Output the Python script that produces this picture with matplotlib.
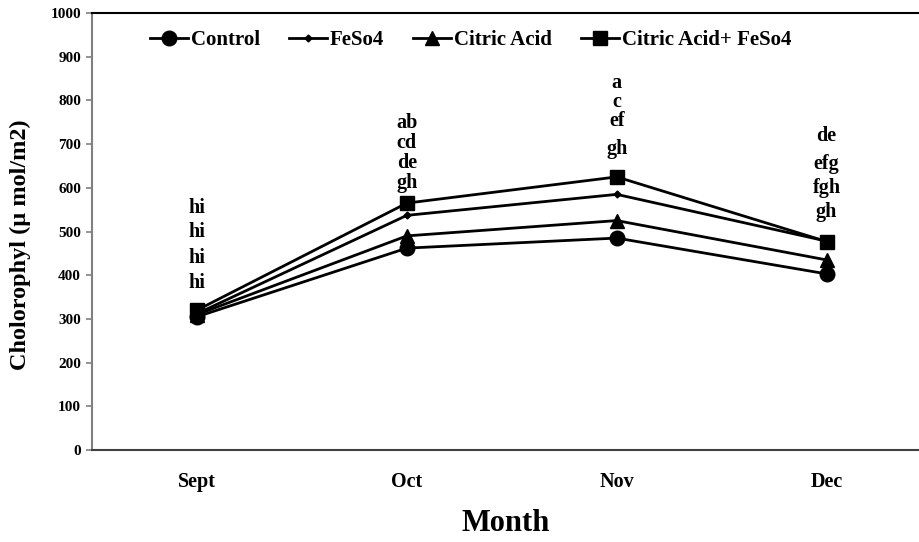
import matplotlib
matplotlib.use('Agg')
import matplotlib.pyplot as plt

plt.rcParams['font.family'] = ['Liberation Serif', 'DejaVu Serif']
plt.rcParams['font.weight'] = 'bold'

months = ['Sept', 'Oct', 'Nov', 'Dec']
control = [305, 462, 485, 403]
feso4 = [312, 537, 585, 478]
citric = [310, 490, 525, 435]
citric_feso4 = [320, 565, 625, 477]

# significance letters per month, and the heights they sit at
letters = [['hi', 'hi', 'hi', 'hi'],
           ['ab', 'cd', 'de', 'gh'],
           ['a', 'c', 'ef', 'gh'],
           ['de', 'efg', 'fgh', 'gh']]
letter_y = [[554, 499, 440, 382],
            [748, 703, 657, 611],
            [840, 796, 753, 689],
            [719, 654, 600, 545]]

fig = plt.figure(figsize=(9.19, 5.42), dpi=100)
ax = fig.add_axes([0.1001, 0.1697, 0.8999, 0.8063])

x = list(range(len(months)))
ax.plot(x, control, color='black', lw=2, marker='o', ms=10.5, label='Control')
ax.plot(x, feso4, color='black', lw=2, marker='D', ms=3.5, label='FeSo4')
ax.plot(x, citric, color='black', lw=2, marker='^', ms=10.5, label='Citric Acid')
ax.plot(x, citric_feso4, color='black', lw=2, marker='s', ms=10.5, label='Citric Acid+ FeSo4')

for i, (labs, ys) in enumerate(zip(letters, letter_y)):
    for lab, yy in zip(labs, ys):
        ax.text(x[i], yy, lab, ha='center', va='center', fontsize=14.5, fontweight='bold')

ax.set_xlim(-0.5, 3.44)
ax.set_ylim(0, 1000)
ax.set_yticks(range(0, 1001, 100))
ax.set_xticks(x)
ax.set_xticklabels(months, fontsize=14.5, fontweight='bold')
ax.tick_params(axis='x', length=0, pad=16)
ax.tick_params(axis='y', length=4, width=1.2, color='#808080', labelsize=11, pad=4)
for t in ax.get_yticklabels():
    t.set_fontweight('bold')

ax.spines['right'].set_visible(False)
ax.spines['left'].set_color('#808080')
ax.spines['left'].set_linewidth(1.5)
ax.spines['bottom'].set_color('#404040')
ax.spines['bottom'].set_linewidth(1.5)
ax.spines['top'].set_color('black')
ax.spines['top'].set_linewidth(1.5)

ax.set_ylabel('Cholorophyl (µ mol/m2)', fontsize=17.5, fontweight='bold')
ax.yaxis.set_label_coords(-0.074, 0.47)
ax.set_xlabel('Month', fontsize=22, fontweight='bold', labelpad=12)

ax.legend(loc='upper left', bbox_to_anchor=(0.048, 1.003), ncol=4, frameon=False,
          handlelength=1.8, handletextpad=0.15, columnspacing=1.4,
          prop={'weight': 'bold', 'size': 15})

fig.savefig('out.png', dpi=100)
